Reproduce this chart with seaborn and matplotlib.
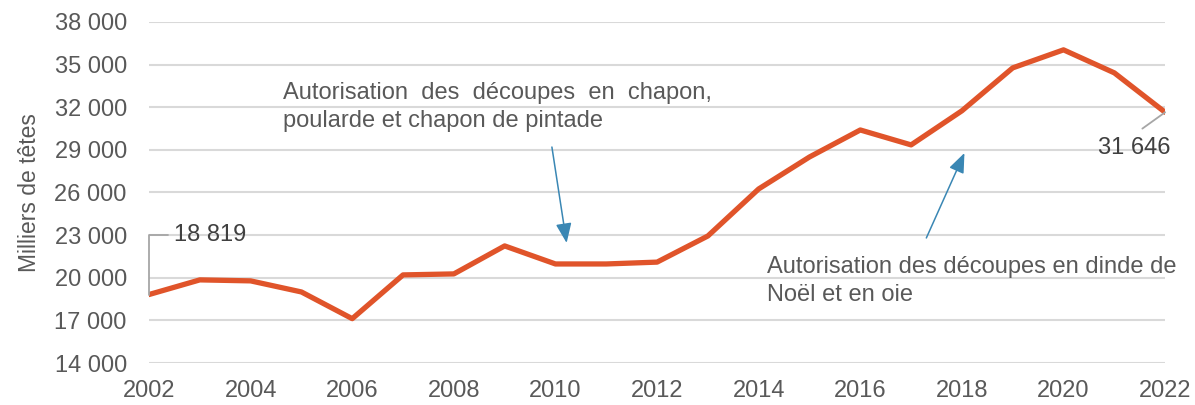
import numpy as np
import pandas as pd
import matplotlib
matplotlib.use("Agg")
import matplotlib.pyplot as plt
import seaborn as sns

# ------------------------------------------------------------
# data (milliers de têtes)
# ------------------------------------------------------------
years = list(range(2002, 2023))
heads = [18819, 19850, 19780, 19000, 17120, 20200, 20270, 22240, 20970, 20970,
         21100, 22940, 26250, 28500, 30400, 29350, 31750, 34770, 36040, 34420,
         31646]
y_ticks = [14000, 17000, 20000, 23000, 26000, 29000, 32000, 35000, 38000]
x_ticks = list(range(2002, 2023, 2))

df = pd.DataFrame({"annee": years, "tetes": heads})

sns.set_theme(style="white")
plt.rcParams['font.family'] = ['Liberation Sans', 'DejaVu Sans']

grey = "#595959"
orange = "#E0542A"
blue = "#3A87B4"
fs = 17

fig = plt.figure(figsize=(11.95, 4.05), dpi=100)
ax = fig.add_axes([0.1247, 0.1037, 0.8503, 0.842])

sns.lineplot(data=df, x="annee", y="tetes", color=orange, linewidth=3.8,
             ax=ax, zorder=3)

ax.set_xlim(2002, 2022)
ax.set_ylim(14000, 38000)
ax.set_yticks(y_ticks)
ax.set_yticklabels([f"{v:,}".replace(",", " ") for v in y_ticks])
ax.set_xticks(x_ticks)
ax.tick_params(axis="both", labelsize=fs, colors=grey, length=0)
ax.tick_params(axis="y", pad=16)
ax.tick_params(axis="x", pad=12)
ax.grid(axis="y", color="#D9D9D9", linewidth=1.5, zorder=0)
for s in ax.spines.values():
    s.set_visible(False)

ax.set_xlabel("")
ax.set_ylabel("Milliers de têtes", fontsize=16.5, color=grey, labelpad=10)

# data labels with leader lines
first = heads[0]
ax.annotate(f"{first:,}".replace(",", " "), xy=(years[0], first),
            xytext=(years[0] + 0.5, 23000), textcoords="data",
            fontsize=fs, color="#404040", va="center", ha="left",
            arrowprops=dict(arrowstyle="-", color="#A6A6A6", lw=1.3,
                            connectionstyle="angle,angleA=0,angleB=90,rad=0",
                            shrinkA=2, shrinkB=0))
last = heads[-1]
ax.annotate(f"{last:,}".replace(",", " "), xy=(years[-1], last),
            xytext=(years[-1] - 0.6, 29150), textcoords="data",
            fontsize=fs, color="#404040", va="center", ha="center",
            arrowprops=dict(arrowstyle="-", color="#A6A6A6", lw=1.3,
                            relpos=(0.45, 1.0), shrinkA=6, shrinkB=0))

# annotations
ax.text(2004.64, 32000,
        "Autorisation  des  découpes  en  chapon,\npoularde et chapon de pintade",
        fontsize=fs, color=grey, va="center", ha="left", linespacing=1.35)
ax.annotate("", xy=(2010.22, 22450), xytext=(2009.93, 29200),
            arrowprops=dict(arrowstyle="-|>,head_length=1.0,head_width=0.4",
                            color=blue, lw=1.1, shrinkA=0, shrinkB=0))

ax.text(2014.17, 19800,
        "Autorisation des découpes en dinde de\nNoël et en oie",
        fontsize=fs, color=grey, va="center", ha="left", linespacing=1.35)
ax.annotate("", xy=(2018.05, 28780), xytext=(2017.3, 22800),
            arrowprops=dict(arrowstyle="-|>,head_length=1.0,head_width=0.4",
                            color=blue, lw=1.1, shrinkA=0, shrinkB=0))

fig.savefig("out.png", dpi=100)
